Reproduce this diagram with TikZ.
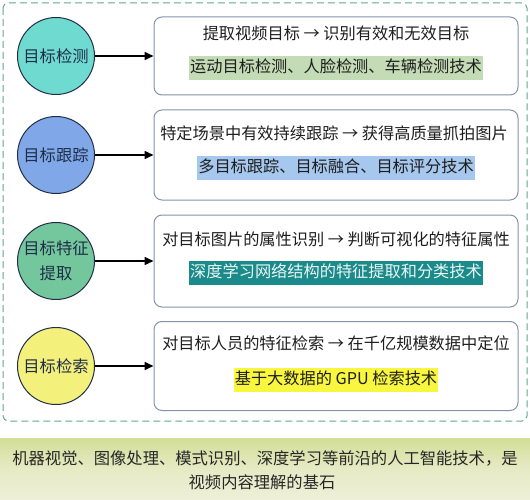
\documentclass[tikz,border=0pt]{standalone}
\usepackage{fontspec}
\setmainfont{Noto Sans CJK SC}
\usetikzlibrary{arrows.meta,shapes.geometric}
\definecolor{cA}{HTML}{6FDAD0}
\definecolor{cB}{HTML}{80A8E8}
\definecolor{cC}{HTML}{74C79C}
\definecolor{cD}{HTML}{F4F07C}
\definecolor{hA}{HTML}{C3DCB5}
\definecolor{hB}{HTML}{A6C7EE}
\definecolor{hC}{HTML}{1A8A8A}
\definecolor{hD}{HTML}{F8F63E}
\definecolor{navy}{HTML}{1E2E48}
\definecolor{boxline}{HTML}{8494AA}
\definecolor{dashgreen}{HTML}{5FA88C}
\definecolor{txt}{HTML}{1E1E1E}
\definecolor{bandtop}{HTML}{D3DE98}
\definecolor{bandbot}{HTML}{EEF0D8}
\begin{document}
\begin{tikzpicture}[x=1pt,y=-1pt,
  circ/.style={circle,draw=navy,line width=1pt,minimum size=77pt,inner sep=0pt,
    font=\fontsize{16.3}{25}\selectfont,text=navy,align=center},
  bigbox/.style={rectangle,rounded corners=8pt,draw=boxline,line width=1pt,
    minimum width=364pt,inner sep=0pt},
  line1/.style={font=\fontsize{16.2}{18}\selectfont,text=txt,inner sep=0pt},
  hl/.style={font=\fontsize{16.2}{18}\selectfont,text=txt,inner xsep=1pt,
    inner ysep=4.5pt,text height=12.5pt,text depth=3pt},
  arr/.style={line width=1.6pt,-{Triangle[length=9pt,width=8pt]}},
  bottomtxt/.style={font=\fontsize{16.3}{24}\selectfont,text=black!85,inner sep=0pt}
]
\useasboundingbox (0,0) rectangle (530,500);
\fill[white] (0,0) rectangle (530,500);
% dashed frame
\draw[dashgreen,line width=1pt,dash pattern=on 7pt off 4pt,rounded corners=5pt] (3,3) rectangle (527,421);
% bottom band
\shade[top color=bandtop,bottom color=bandbot,middle color=bandbot!70!bandtop] (0,438) rectangle (530,500);

% circles
\node[circ,fill=cA] (c1) at (56,56) {目标检测};
\node[circ,fill=cB] (c2) at (56,155) {目标跟踪};
\node[circ,fill=cC] (c3) at (56,261) {目标特征\\提取};
\node[circ,fill=cD] (c4) at (56,366) {目标检索};

% boxes
\node[bigbox,minimum height=78pt] (b1) at (336,56) {};
\node[bigbox,minimum height=90pt] (b2) at (336,155) {};
\node[bigbox,minimum height=92pt] (b3) at (336,261) {};
\node[bigbox,minimum height=89pt] (b4) at (336,366) {};

% arrows
\draw[arr] (c1) -- (b1.west);
\draw[arr] (c2) -- (b2.west);
\draw[arr] (c3) -- (b3.west);
\draw[arr] (c4) -- (b4.west);

% box texts
\node[line1] (t1a) at (336,33) {提取视频目标 → 识别有效和无效目标};
\node[hl,fill=hA] (t1b) at (336,68) {运动目标检测、人脸检测、车辆检测技术};
\node[line1] (t2a) at (334,133) {特定场景中有效持续跟踪 → 获得高质量抓拍图片};
\node[hl,fill=hB] (t2b) at (336,168) {多目标跟踪、目标融合、目标评分技术};
\node[line1] (t3a) at (336,239) {对目标图片的属性识别 → 判断可视化的特征属性};
\node[hl,fill=hC,text=white!92!hC] (t3b) at (336,273) {深度学习网络结构的特征提取和分类技术};
\node[line1] (t4a) at (336,343) {对目标人员的特征检索 → 在千亿规模数据中定位};
\node[hl,fill=hD] (t4b) at (336,380) {基于大数据的 GPU 检索技术};

% bottom text
\node[bottomtxt] (f1) at (265,458) {机器视觉、图像处理、模式识别、深度学习等前沿的人工智能技术，是};
\node[bottomtxt] (f2) at (262,482) {视频内容理解的基石};
\end{tikzpicture}
\end{document}
